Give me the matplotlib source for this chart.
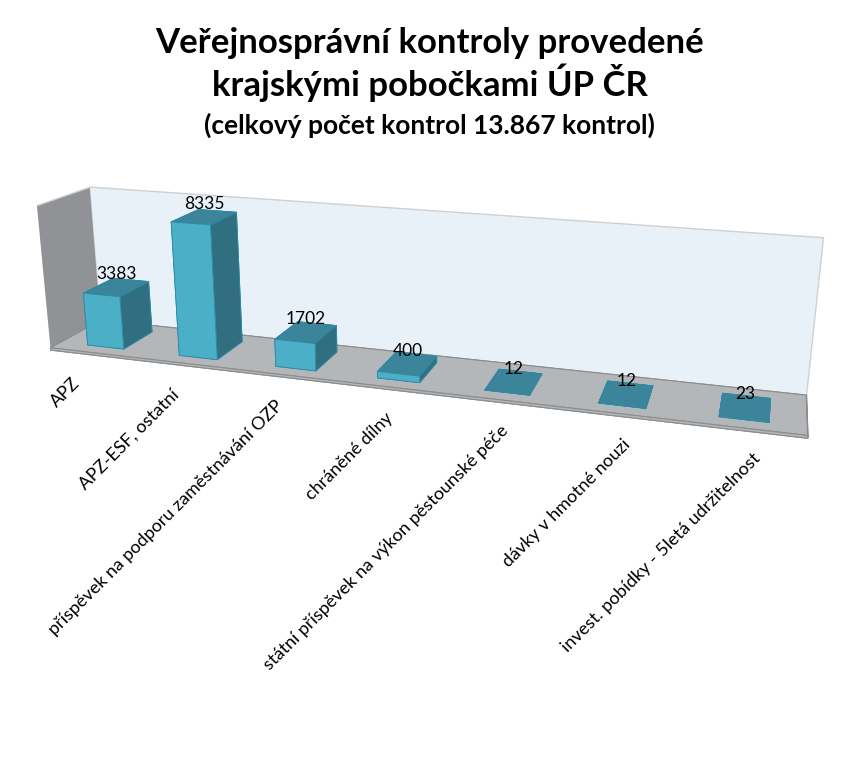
import numpy as np
import matplotlib.pyplot as plt
from mpl_toolkits.mplot3d import proj3d

categories = ["APZ", "APZ-ESF, ostatní", "příspěvek na podporu zaměstnávání OZP",
              "chráněné dílny", "státní příspěvek na výkon pěstounské péče",
              "dávky v hmotné nouzi", "invest. pobídky - 5letá udržitelnost"]
values = [3383, 8335, 1702, 400, 12, 12, 23]

plt.rcParams['font.family'] = ['Lato', 'DejaVu Sans']

fig = plt.figure(figsize=(8.59, 7.63), dpi=100)
ax = fig.add_axes([-0.039, 0.031, 1.0, 1.126], projection='3d')
ax.computed_zorder = False

n = len(values)
slab = 150
zmax = 9000
ax.set_xlim(-0.5, n - 0.5)
ax.set_ylim(0, 1)
ax.set_zlim(-slab, zmax)
ax.set_proj_type('persp', focal_length=0.25)
ax.view_init(elev=17, azim=-72.5)
ax.set_box_aspect((10, 1.3, 2.05), zoom=0.9)

# walls / floor
ax.xaxis.set_pane_color('#909296')
ax.yaxis.set_pane_color('#e9f1f8')
ax.zaxis.set_pane_color('#b4b7ba')
for a in (ax.xaxis, ax.yaxis, ax.zaxis):
    a.pane.set_edgecolor('#d0d0d0')
    a.line.set_color((0, 0, 0, 0))
    a.set_ticks([])
ax.grid(False)

# floor slab
ax.bar3d(-0.5, 0, -slab, n, 1, slab, color='#b4b7ba', shade=False,
         edgecolor='#8c8c8c', linewidth=0.8, zorder=1)

# bars: faces -Z, +Z, -Y, +Y, -X, +X
face_cols = ['#3b8499', '#3b8499', '#4bafc8', '#4bafc8', '#2f6f80', '#2f6f80']
w = 0.4
xs = np.arange(n) - w / 2
ax.bar3d(xs, np.full(n, 0.2), np.zeros(n), w, 0.6, values,
         color=face_cols * n, shade=False, edgecolor='#2f8aa3', linewidth=0.6, zorder=2)

fig.canvas.draw()
M = ax.get_proj()
for i, v in enumerate(values):
    px, py, _ = proj3d.proj_transform(i, 0.5, v + 150, M)
    ax.annotate(str(v), (px, py), xytext=(0, 2), textcoords='offset points',
                ha='center', va='bottom', fontsize=12.5, zorder=5, annotation_clip=False)
    px, py, _ = proj3d.proj_transform(i, 0, -slab, M)
    ax.annotate(categories[i], (px, py), xytext=(-24 + 5.5 * i, -20),
                textcoords='offset pixels', rotation=45, ha='right', va='top',
                rotation_mode='anchor', fontsize=13, zorder=5, annotation_clip=False)

fig.text(0.5, 0.965, "Veřejnosprávní kontroly provedené\nkrajskými pobočkami ÚP ČR",
         ha='center', va='top', fontsize=25, fontweight='bold', linespacing=1.15)
fig.text(0.5, 0.852, "(celkový počet kontrol 13.867 kontrol)", ha='center', va='top',
         fontsize=19, fontweight='bold')

fig.savefig('out.png', dpi=100)
